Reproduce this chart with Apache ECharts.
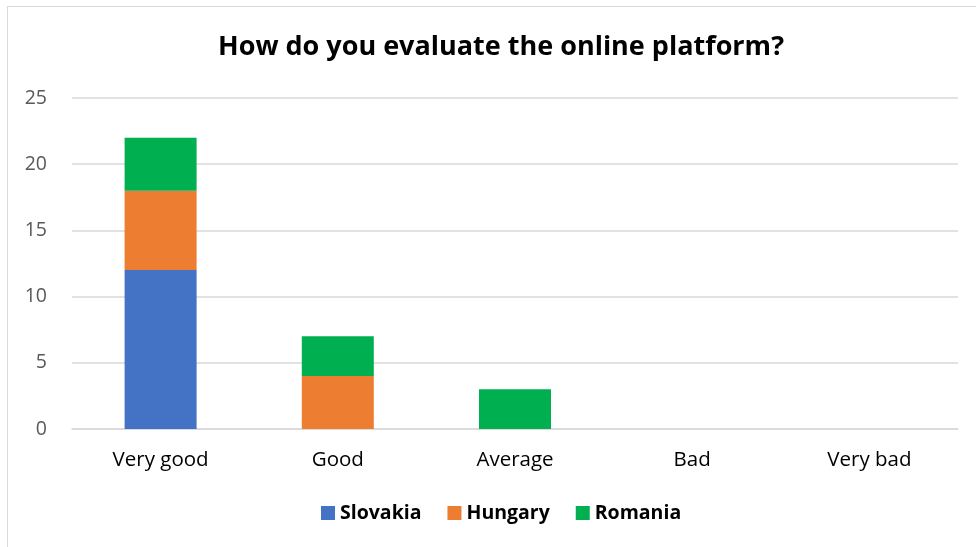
<!DOCTYPE html>
<html>
<head>
<meta charset="utf-8">
<script src="https://cdn.jsdelivr.net/npm/echarts@6/dist/echarts.min.js"></script>
<style>
  html, body { margin: 0; padding: 0; background: #fff; }
  #frame {
    position: absolute; left: 7px; top: 6px; width: 980px; height: 560px;
    border-left: 1px solid #d9d9d9; border-top: 1px solid #d9d9d9;
  }
  #chart { position: absolute; left: 0; top: 0; width: 976px; height: 547px; }
</style>
</head>
<body>
<div id="frame"></div>
<div id="chart"></div>
<script>
// categories and values
const categories = ['Very good', 'Good', 'Average', 'Bad', 'Very bad']
const slovakia = [12, 0, 0, 0, 0]
const hungary = [6, 4, 0, 0, 0]
const romania = [4, 3, 3, 0, 0]
const seriesNames = ['Slovakia', 'Hungary', 'Romania']
const colors = ['#4472C4', '#ED7D31', '#00B050']

const font = '"Open Sans", Lato, sans-serif'

const chart = echarts.init(document.getElementById('chart'))

const values = [slovakia, hungary, romania]
const series = seriesNames.map((name, i) => ({
  name: name,
  type: 'bar',
  stack: 'total',
  barWidth: 72,
  itemStyle: { color: colors[i] },
  data: values[i]
}))

chart.setOption({
  animation: false,
  textStyle: { fontFamily: font },
  title: {
    text: 'How do you evaluate the online platform?',
    left: 213,
    top: 29,
    textStyle: { fontSize: 27, fontWeight: 'bold', color: '#000', fontFamily: font }
  },
  legend: {
    data: seriesNames,
    bottom: 19,
    left: 316,
    itemWidth: 14,
    itemHeight: 14,
    itemGap: 26,
    icon: 'rect',
    textStyle: { fontSize: 19.5, fontWeight: 'bold', color: '#000', fontFamily: font }
  },
  grid: { left: 72, right: 18, top: 98, bottom: 118 },
  xAxis: {
    type: 'category',
    data: categories,
    axisLine: { lineStyle: { color: '#d9d9d9', width: 1.5 } },
    axisTick: { show: false },
    axisLabel: { fontSize: 20.5, color: '#000', margin: 21, fontFamily: font }
  },
  yAxis: {
    type: 'value',
    min: 0,
    max: 25,
    interval: 5,
    axisLine: { show: false },
    axisTick: { show: false },
    splitLine: { lineStyle: { color: '#d9d9d9', width: 1.5 } },
    axisLabel: { fontSize: 19.5, color: '#595959', margin: 25, fontFamily: font }
  },
  series: series
})
</script>
</body>
</html>
